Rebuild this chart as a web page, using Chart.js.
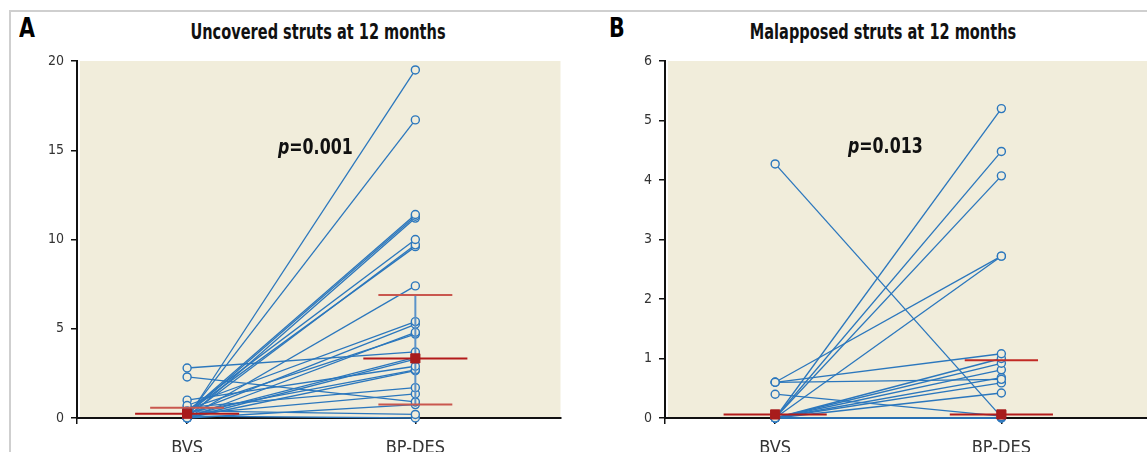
<!DOCTYPE html>
<html>
<head>
<meta charset="utf-8">
<script src="https://cdn.jsdelivr.net/npm/chart.js@4.4.1/dist/chart.umd.min.js"></script>
<style>
    html, body { margin: 0; padding: 0; background: #fff; overflow: hidden; }
    body { width: 1147px; height: 452px; position: relative; font-family: "Liberation Sans Narrow", "DejaVu Sans Condensed", sans-serif; }
    .frame { position: absolute; left: 9px; top: 10px; right: -5px; bottom: -5px; border-top: 2px solid #cfcfcf; border-left: 2px solid #cfcfcf; }
    .panel-letter { position: absolute; font-weight: bold; font-size: 27px; color: #000; line-height: 1; transform: scaleX(0.85); transform-origin: left top; }
    .title { position: absolute; font-weight: bold; font-size: 21px; color: #111; line-height: 1; white-space: nowrap; transform: translateX(-50%) scaleX(0.77); }
    .pval { position: absolute; z-index: 2; font-weight: bold; font-size: 22px; color: #111; line-height: 1; white-space: nowrap; transform: scaleX(0.8); transform-origin: left top; }
    canvas { position: absolute; top: 0; z-index: 1; }
</style>
</head>
<body>
<div class="frame"></div>
<div class="panel-letter" style="left:19px;top:14px;">A</div>
<div class="panel-letter" style="left:609px;top:14px;">B</div>
<div class="title" style="left:318px;top:22px;">Uncovered struts at 12 months</div>
<div class="title" style="left:883px;top:22px;">Malapposed struts at 12 months</div>
<div class="pval" style="left:278px;top:136px;"><i>p</i>=0.001</div>
<div class="pval" style="left:848px;top:135px;"><i>p</i>=0.013</div>

<canvas id="uncoveredChart" width="568" height="470" style="left:0px"></canvas>
<canvas id="malapposedChart" width="565" height="470" style="left:590px"></canvas>

<script>
const categories = ["BVS", "BP-DES"];

// uncovered struts, one pair per patient (BVS value, BP-DES value)
const uncovBVS = [0.0, 0.1, 0.3, 0.2, 0.0, 0.4, 0.1, 0.3, 0.0, 0.7, 0.2, 0.0, 0.5, 2.8, 0.1, 0.0, 1.0, 0.3, 0.0, 0.6, 0.2, 2.3, 0.0, 0.4, 0.1];
const uncovDES = [19.5, 16.7, 11.4, 11.3, 11.2, 10.0, 9.7, 9.6, 7.4, 5.4, 5.25, 4.8, 4.7, 3.7, 3.4, 3.3, 2.9, 2.7, 2.65, 1.7, 1.35, 0.9, 0.75, 0.2, 0.0];
const uncovMedian = [0.24, 3.34];
const uncovQ1 = [null, 0.75];
const uncovQ3 = [0.58, 6.89];
const uncovTicks = [0, 5, 10, 15, 20];

// malapposed struts
const malBVS = [4.27, 0.6, 0.6, 0.6, 0.4, 0, 0, 0, 0, 0, 0, 0, 0, 0, 0, 0, 0];
const malDES = [0.02, 1.08, 0.65, 2.72, 0.03, 5.2, 4.48, 4.07, 2.72, 1.0, 0.92, 0.81, 0.68, 0.59, 0.42, 0, 0];
const malMedian = [0.06, 0.06];
const malQ1 = [null, null];
const malQ3 = [null, 0.97];
const malTicks = [0, 1, 2, 3, 4, 5, 6];

const BLUE = "#2b77bd";
const BG = "#f1eddb";
const FONT = "'Liberation Sans Narrow', 'DejaVu Sans Condensed', sans-serif";

const plotBg = {
    id: "plotBg",
    beforeDraw(chart) {
        const a = chart.chartArea;
        const ctx = chart.ctx;
        ctx.save();
        ctx.fillStyle = BG;
        ctx.fillRect(a.left + 3, a.top, a.right - a.left - 3, a.bottom - a.top);
        ctx.restore();
    }
};

function buildDatasets(bvs, des, median, q1, q3, iqrColor, whisker) {
    const sets = [];

    // red median squares
    sets.push({
        data: median.map((m, i) => ({ x: i, y: m })),
        showLine: false,
        pointStyle: "rect",
        pointRadius: 6.5,
        pointBackgroundColor: "#a81c1c",
        pointBorderColor: "#a81c1c",
        order: 0,
        clip: false
    });

    // median lines
    median.forEach((m, i) => {
        sets.push({
            data: [{ x: i - 0.228, y: m }, { x: i + 0.228, y: m }],
            showLine: true,
            borderColor: "#b31b1b",
            borderWidth: 2,
            pointRadius: 0,
            order: 1,
            clip: false
        });
    });

    // quartile lines
    [q1, q3].forEach(q => {
        q.forEach((v, i) => {
            if (v === null) return;
            sets.push({
                data: [{ x: i - 0.162, y: v }, { x: i + 0.162, y: v }],
                showLine: true,
                borderColor: iqrColor,
                borderWidth: 2,
                pointRadius: 0,
                order: 2,
                clip: false
            });
        });
    });

    if (whisker) {
        sets.push({
            data: [{ x: 1, y: q1[1] }, { x: 1, y: q3[1] }],
            showLine: true,
            borderColor: "#5b93c9",
            borderWidth: 2,
            pointRadius: 0,
            order: 4,
            clip: false
        });
    }

    // patient lines
    bvs.forEach((b, i) => {
        sets.push({
            data: [{ x: 0, y: b }, { x: 1, y: des[i] }],
            showLine: true,
            borderColor: BLUE,
            borderWidth: 1.3,
            pointRadius: 4,
            pointBorderWidth: 1.4,
            pointBorderColor: BLUE,
            pointBackgroundColor: BG,
            order: 5,
            clip: false
        });
    });

    return sets;
}

function makeChart(id, datasets, yTicks, xMin, xMax, yAxisWidth) {
    return new Chart(document.getElementById(id), {
        type: "scatter",
        data: { datasets: datasets },
        options: {
            responsive: false,
            animation: false,
            devicePixelRatio: 1,
            layout: { padding: { top: 61, left: 0, right: 0, bottom: 0 } },
            plugins: { legend: { display: false }, tooltip: { enabled: false } },
            scales: {
                x: {
                    type: "linear",
                    min: xMin,
                    max: xMax,
                    afterBuildTicks: scale => {
                        scale.ticks = [xMin, 0, 1].map(v => ({ value: v }));
                    },
                    afterFit: scale => { scale.height = 52; },
                    ticks: {
                        autoSkip: false,
                        maxRotation: 0,
                        padding: 14,
                        color: "#333",
                        font: { family: FONT, size: 18 },
                        callback: v => (v === 0 ? categories[0] : v === 1 ? categories[1] : "")
                    },
                    grid: { drawOnChartArea: false, drawTicks: true, tickLength: 6, color: "#111", lineWidth: 1.5 },
                    border: { display: true, color: "#111", width: 2 }
                },
                y: {
                    min: yTicks[0],
                    max: yTicks[yTicks.length - 1],
                    afterBuildTicks: scale => {
                        scale.ticks = yTicks.map(v => ({ value: v }));
                    },
                    afterFit: scale => { scale.width = yAxisWidth; },
                    ticks: {
                        padding: 7,
                        color: "#333",
                        font: { family: FONT, size: 14 }
                    },
                    grid: { drawOnChartArea: false, drawTicks: true, tickLength: 6, color: "#111", lineWidth: 1.5 },
                    border: { display: true, color: "#111", width: 2 }
                }
            }
        },
        plugins: [plotBg]
    });
}

makeChart("uncoveredChart",
    buildDatasets(uncovBVS, uncovDES, uncovMedian, uncovQ1, uncovQ3, "#c9574e", true),
    uncovTicks, -0.4825, 1.636, 77);

makeChart("malapposedChart",
    buildDatasets(malBVS, malDES, malMedian, malQ1, malQ3, "#c22a24", false),
    malTicks, -0.487, 1.646, 75);
</script>
</body>
</html>
